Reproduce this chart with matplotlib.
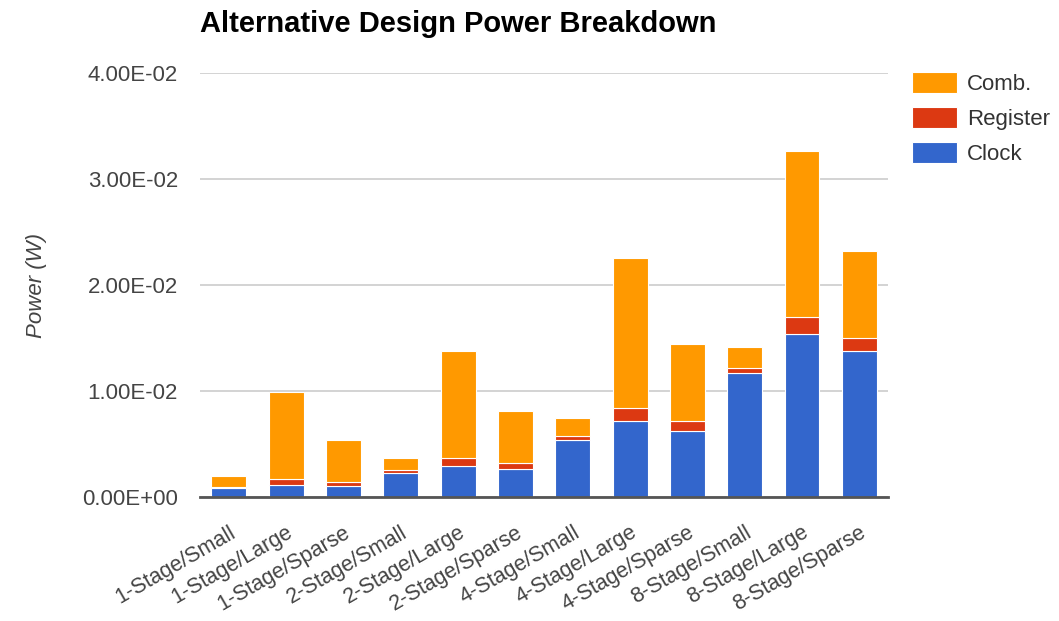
import numpy as np
import matplotlib
matplotlib.use("Agg")
import matplotlib.pyplot as plt
from matplotlib.ticker import FuncFormatter

plt.rcParams['font.family'] = ['Liberation Sans', 'DejaVu Sans']

# data (Watts)
designs = ['1-Stage/Small', '1-Stage/Large', '1-Stage/Sparse',
           '2-Stage/Small', '2-Stage/Large', '2-Stage/Sparse',
           '4-Stage/Small', '4-Stage/Large', '4-Stage/Sparse',
           '8-Stage/Small', '8-Stage/Large', '8-Stage/Sparse']
clock = [0.00085, 0.00117, 0.00101, 0.00223, 0.00292, 0.00260,
         0.00542, 0.00714, 0.00626, 0.01170, 0.01538, 0.01381]
register = [0.00010, 0.00050, 0.00043, 0.00032, 0.00073, 0.00058,
            0.00037, 0.00126, 0.00088, 0.00050, 0.00157, 0.00123]
comb = [0.00105, 0.00826, 0.00394, 0.00110, 0.01012, 0.00496,
        0.00166, 0.01415, 0.00733, 0.00192, 0.01573, 0.00821]

c_clock = '#3366cc'
c_reg = '#dc3912'
c_comb = '#ff9900'

fig = plt.figure(figsize=(10.59, 6.21), dpi=100)
ax = fig.add_axes([0.189, 0.1997, 0.6495, 0.6827])

x = np.arange(len(designs))
w = 0.61
clock = np.array(clock)
register = np.array(register)
comb = np.array(comb)

b1 = ax.bar(x, clock, w, color=c_clock, edgecolor='white', linewidth=0.8, zorder=3)
b2 = ax.bar(x, register, w, bottom=clock, color=c_reg, edgecolor='white', linewidth=0.8, zorder=3)
b3 = ax.bar(x, comb, w, bottom=clock + register, color=c_comb, edgecolor='white', linewidth=0.8, zorder=3)

ax.set_xlim(-0.5, len(designs) - 0.5)
ax.set_ylim(0, 0.04)
ax.set_yticks([0, 0.01, 0.02, 0.03, 0.04])
ax.yaxis.set_major_formatter(FuncFormatter(lambda v, p: '%.2E' % v))
ax.grid(True, axis='y', color='#cccccc', linewidth=1.2, zorder=0)
for s in ['top', 'right', 'left']:
    ax.spines[s].set_visible(False)
ax.spines['bottom'].set_color('#555555')
ax.spines['bottom'].set_linewidth(2)
ax.spines['bottom'].set_zorder(4)
ax.tick_params(axis='both', length=0, labelcolor='#444444')
ax.tick_params(axis='y', pad=16, labelsize=16)
ax.set_xticks(x)
ax.set_xticklabels(designs, rotation=30, ha='right', rotation_mode='anchor')
ax.tick_params(axis='x', pad=18, labelsize=15.5)

ax.set_ylabel('Power (W)', fontsize=16, style='italic', color='#444444')
ax.yaxis.set_label_coords(-0.222, 0.5)
fig.text(0.189, 0.962, 'Alternative Design Power Breakdown', fontsize=21,
         fontweight='bold', ha='left', va='center', color='black')

fig.legend([b3, b2, b1], ['Comb.', 'Register', 'Clock'], loc='upper left',
           bbox_to_anchor=(912 / 1059, 1 - 72 / 621), frameon=False, fontsize=16,
           handlelength=2.03, handleheight=1.05, labelspacing=0.55,
           borderpad=0, borderaxespad=0,
           labelcolor='#333333', handletextpad=0.45)

fig.savefig('out.png', dpi=100)
